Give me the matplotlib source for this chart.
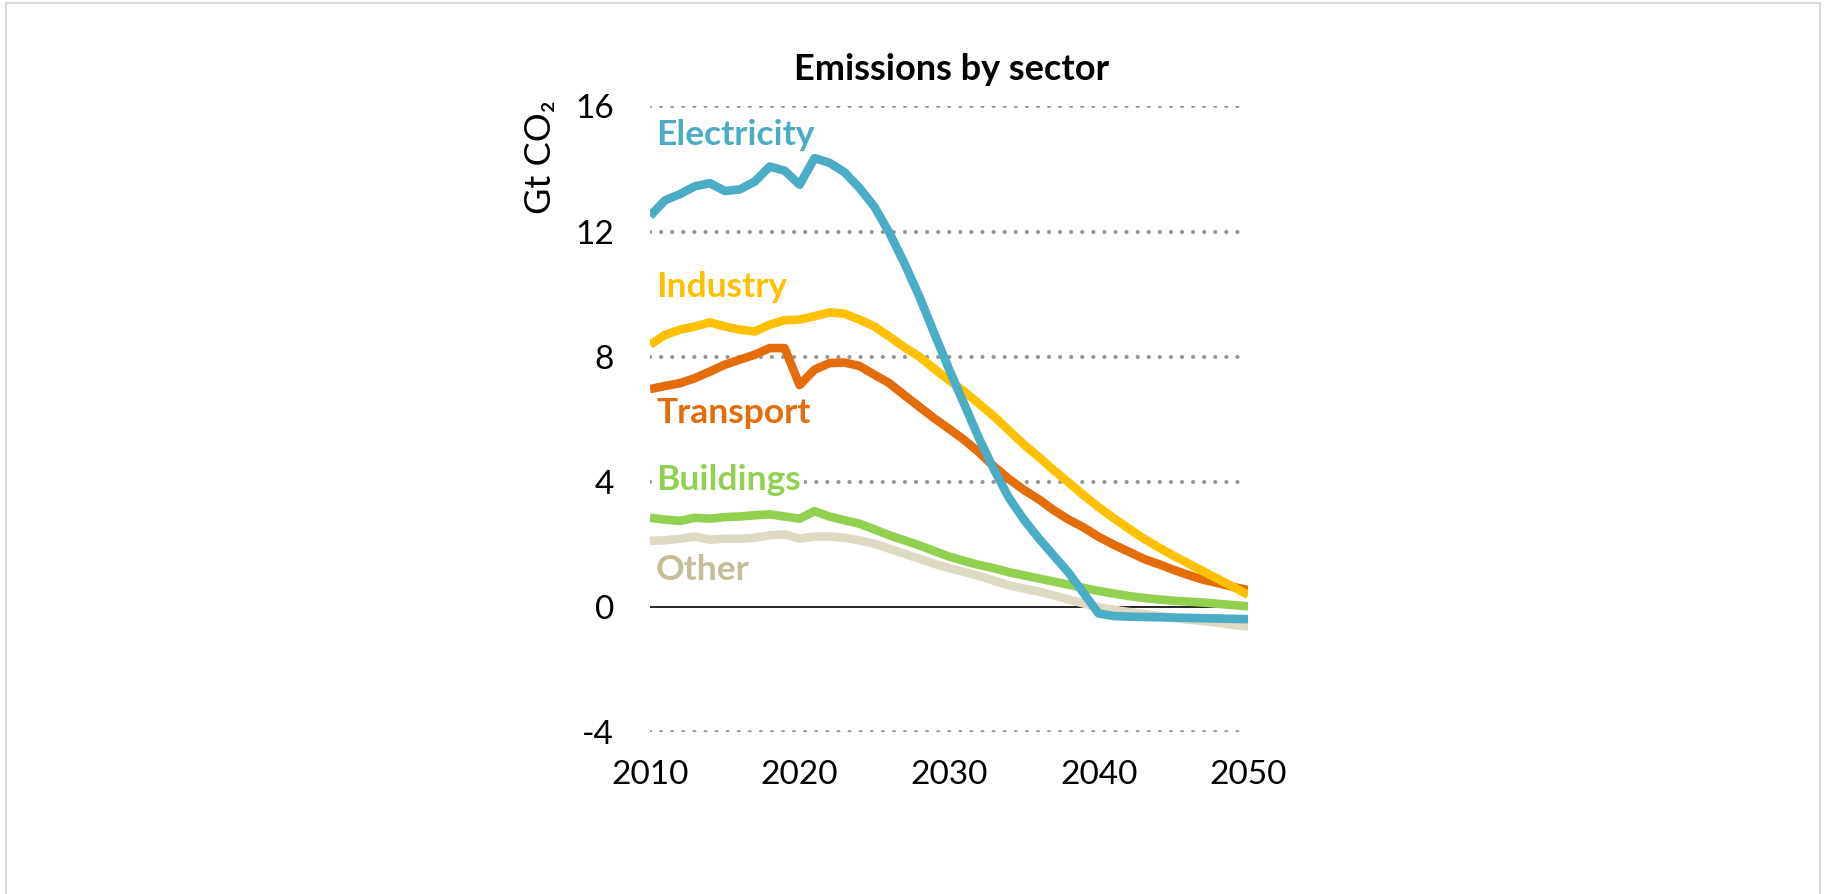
import matplotlib
matplotlib.use('Agg')
import matplotlib.pyplot as plt
from matplotlib.patches import Rectangle

years = list(range(2010, 2051))

electricity = [12.5, 13.0, 13.2, 13.45, 13.55, 13.3, 13.35, 13.6, 14.08, 13.95,
               13.5, 14.35, 14.2, 13.9, 13.4, 12.8, 11.97, 11.0, 9.94, 8.76,
               7.6, 6.5, 5.4, 4.4, 3.5, 2.8, 2.2, 1.65, 1.1, 0.45,
               -0.2, -0.28, -0.3, -0.31, -0.32, -0.33, -0.34, -0.35, -0.36, -0.37,
               -0.38]
industry = [8.39, 8.7, 8.87, 8.97, 9.1, 8.97, 8.87, 8.81, 9.03, 9.17,
            9.19, 9.3, 9.42, 9.38, 9.19, 8.97, 8.65, 8.31, 8.01, 7.62,
            7.25, 6.9, 6.5, 6.1, 5.65, 5.2, 4.8, 4.38, 3.98, 3.58,
            3.2, 2.85, 2.52, 2.2, 1.92, 1.65, 1.4, 1.15, 0.9, 0.65,
            0.4]
transport = [6.97, 7.07, 7.16, 7.32, 7.53, 7.75, 7.91, 8.07, 8.28, 8.28,
             7.1, 7.59, 7.8, 7.82, 7.71, 7.43, 7.16, 6.78, 6.41, 6.04,
             5.7, 5.35, 4.95, 4.5, 4.1, 3.75, 3.45, 3.1, 2.8, 2.55,
             2.25, 2.0, 1.78, 1.55, 1.38, 1.2, 1.03, 0.88, 0.77, 0.65,
             0.55]
buildings = [2.86, 2.8, 2.76, 2.86, 2.83, 2.88, 2.9, 2.94, 2.97, 2.9,
             2.83, 3.07, 2.9, 2.78, 2.67, 2.49, 2.3, 2.14, 1.98, 1.8,
             1.62, 1.48, 1.35, 1.25, 1.12, 1.02, 0.92, 0.82, 0.72, 0.62,
             0.52, 0.44, 0.36, 0.3, 0.25, 0.21, 0.18, 0.15, 0.11, 0.07,
             0.03]
other = [2.12, 2.14, 2.19, 2.26, 2.16, 2.19, 2.19, 2.22, 2.3, 2.33,
         2.19, 2.26, 2.26, 2.22, 2.14, 2.03, 1.87, 1.71, 1.55, 1.39,
         1.25, 1.13, 1.0, 0.85, 0.7, 0.6, 0.5, 0.38, 0.25, 0.12,
         0.0, -0.08, -0.15, -0.22, -0.28, -0.34, -0.4, -0.44, -0.5, -0.56,
         -0.62]

sectors = ['Electricity', 'Industry', 'Transport', 'Buildings', 'Other']
line_colors = ['#4BACC6', '#FFC000', '#E46C0A', '#92D050', '#DDD9C3']
text_colors = ['#4BACC6', '#FFC000', '#E46C0A', '#92D050', '#C4BD97']
label_y = [14.77, 9.92, 5.88, 3.75, 0.87]

y_ticks = [-4, 0, 4, 8, 12, 16]
x_ticks = [2010, 2020, 2030, 2040, 2050]

FONT = ['Lato', 'DejaVu Sans']


def main():
    plt.rcParams['font.family'] = FONT
    plt.rcParams['axes.unicode_minus'] = False

    fig = plt.figure(figsize=(18.25, 8.94), dpi=100)
    ax = fig.add_axes([0.3562, 0.1807, 0.3277, 0.7002])

    # light frame round the picture
    fig.patches.append(Rectangle((6 / 1825, -0.05), 1814 / 1825, 0.05 + 891 / 894,
                                 transform=fig.transFigure, fill=False,
                                 edgecolor='#D9D9D9', linewidth=1.5))

    # dotted grid, solid zero line
    for v in y_ticks:
        if v == 0:
            ax.axhline(0, color='black', linewidth=1.2, zorder=1)
        else:
            ax.axhline(v, color='#969696', linewidth=3,
                       linestyle=(0, (0.01, 2.65)), dash_capstyle='round', zorder=1)

    series = [electricity, industry, transport, buildings, other]
    # blue goes on top
    order = [4, 3, 2, 1, 0]
    for i in order:
        ax.plot(years, series[i], color=line_colors[i], linewidth=6.2,
                solid_capstyle='butt', zorder=3)

    for name, col, yv in zip(sectors, text_colors, label_y):
        txt = ax.text(2010.4, yv, name, color=col, fontsize=25.5, fontweight='bold',
                      ha='left', va='baseline', zorder=4)
        if name == 'Buildings':
            txt.set_bbox(dict(facecolor='white', edgecolor='none', pad=2))

    ax.set_xlim(2010, 2050)
    ax.set_ylim(-4, 16)
    ax.set_xticks(x_ticks)
    ax.set_yticks(y_ticks)
    ax.tick_params(length=0, labelsize=24, colors='black')
    ax.tick_params(axis='y', pad=26)
    ax.tick_params(axis='x', pad=20)
    for s in ax.spines.values():
        s.set_visible(False)

    fig.text(0.5216, 0.9105, 'Emissions by sector', fontsize=26, fontweight='bold',
             ha='center', va='baseline')
    fig.text(0.2964, 0.8238, 'Gt CO\u2082', fontsize=26, rotation=90,
             ha='center', va='center')

    fig.savefig('out.png', dpi=100, facecolor='white')


if __name__ == "__main__":
    main()
